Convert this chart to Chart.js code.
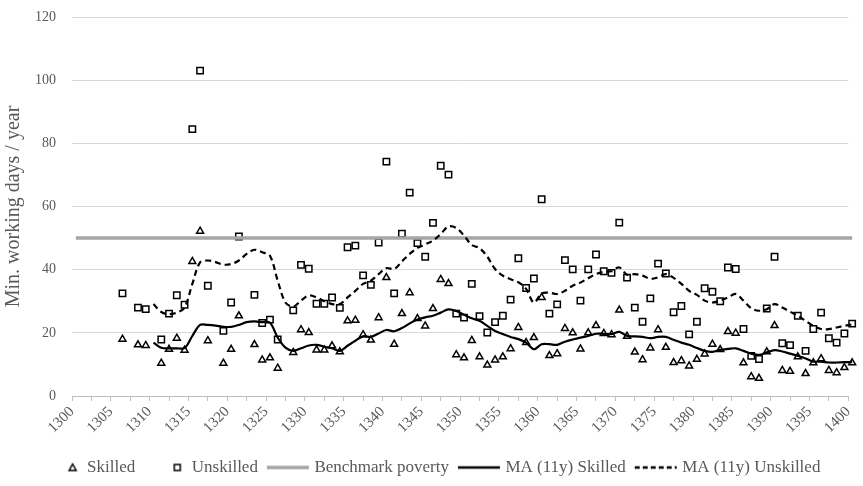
<!DOCTYPE html>
<html>
<head>
<meta charset="utf-8">
<script src="https://cdn.jsdelivr.net/npm/chart.js@4.4.0/dist/chart.umd.min.js"></script>
<style>
html,body{margin:0;padding:0;background:#fff;}
#wrap{width:863px;height:486px;}
</style>
</head>
<body>
<div id="wrap"><canvas id="grafico"></canvas></div>
<script>
// years with observations
var anni = [1306,1308,1309,1311,1312,1313,1314,1315,1316,1317,1319,1320,1321,1323,1324,1325,1326,
  1328,1329,1330,1331,1332,1333,1334,1335,1336,1337,1338,1339,1340,1341,1342,1343,1344,1345,1346,1347,1348,1349,
  1350,1351,1352,1353,1354,1355,1356,1357,1358,1359,1360,1361,1362,1363,1364,1365,1366,1367,1368,1369,
  1370,1371,1372,1373,1374,1375,1376,1377,1378,1379,1380,1381,1382,1383,1384,1385,1386,1387,1388,1389,
  1390,1391,1392,1393,1394,1395,1396,1397,1398,1399,1400];
var skilled = [18.0,16.2,16.0,10.4,14.8,18.3,14.5,42.6,52.2,17.5,10.4,14.8,25.4,16.3,11.4,12.1,8.8,
  13.8,21.0,20.1,14.6,14.6,15.9,14.0,23.8,24.0,19.4,17.7,24.8,37.5,16.4,26.1,32.7,24.5,22.2,27.7,36.9,35.6,13.1,
  12.1,17.6,12.4,9.8,11.4,12.4,15.0,21.7,16.9,18.5,31.2,12.8,13.4,21.4,20.0,14.9,20.0,22.3,19.8,19.4,
  27.2,18.9,13.9,11.5,15.2,21.0,15.4,10.6,11.2,9.5,11.6,13.3,16.4,14.7,20.4,19.9,10.5,6.1,5.6,14.0,
  22.3,8.1,7.8,12.4,7.1,10.5,11.8,8.1,7.4,9.0,10.5];
var unskilled = [32.5,28.0,27.5,17.9,26.1,31.9,28.9,84.5,103.0,34.9,20.6,29.6,50.5,32.0,23.1,24.2,17.9,
  27.1,41.5,40.3,29.2,29.2,31.2,27.9,47.1,47.6,38.2,35.2,48.6,74.2,32.5,51.4,64.4,48.4,44.1,54.8,72.9,70.1,26.1,
  24.8,35.5,25.3,20.1,23.4,25.4,30.5,43.6,34.2,37.2,62.3,26.1,29.0,43.0,40.1,30.2,40.1,44.8,39.5,39.0,
  54.9,37.5,28.0,23.5,30.9,41.9,38.8,26.5,28.5,19.5,23.5,34.1,33.0,30.0,40.7,40.2,21.2,12.7,11.7,27.7,
  44.1,16.7,16.1,25.4,14.3,21.2,26.4,18.3,16.9,19.8,22.9];

// moving averages, 1310-1400
var anniMA = Array.from({length: 91}, function(_, i){ return 1310 + i; });
var maSkilled = [16.9,15.3,15.1,15.1,15.2,19.0,22.5,22.5,22.3,21.9,21.9,22.5,23.4,23.6,23.4,23.2,18.5,15.3,14.3,15.1,
  16.0,16.2,15.6,15.1,14.3,15.9,17.5,18.9,18.7,19.8,20.9,20.5,21.5,23.0,24.2,24.9,25.4,26.4,27.4,26.9,
  25.7,24.6,23.8,22.2,20.6,19.6,18.7,18.0,16.9,14.8,16.4,16.4,16.2,17.2,17.9,18.5,19.0,19.7,19.7,19.6,
  20.3,19.0,18.9,18.7,18.3,18.7,18.7,17.8,16.9,16.2,15.2,14.3,14.0,14.6,14.9,15.1,14.3,13.4,13.0,13.8,
  14.5,14.1,13.4,12.7,11.9,10.9,10.9,10.6,10.6,10.7,10.7];
var maUnskilled = [29.1,26.6,25.9,26.4,28.0,35.5,42.3,42.9,42.4,41.6,41.8,42.9,45.0,46.3,45.5,44.4,36.5,29.6,28.3,30.2,
  31.8,31.2,30.0,29.1,29.1,31.2,33.3,35.5,36.5,38.6,40.5,40.2,42.6,45.0,46.9,48.0,49.2,51.3,53.7,53.2,
  50.8,47.8,46.8,44.1,40.2,38.1,37.0,36.0,33.9,29.6,32.5,32.7,32.3,33.3,34.9,35.9,37.3,38.6,39.3,39.5,
  40.7,38.4,38.6,38.1,37.1,37.6,38.6,37.4,35.5,33.3,32.0,30.2,29.6,30.2,31.2,32.3,30.2,27.8,27.0,27.5,
  29.1,28.0,26.7,25.4,23.8,22.2,21.2,21.2,21.7,22.2,22.7];

var anniSoglia = [1300, 1400];
var soglia = [50, 50];

function punti(xs, ys){
  return xs.map(function(x, i){ return {x: x, y: ys[i]}; });
}

// legend markers (canvas a bit wider than the legend box so lines reach the text)
function marcatore(tipo){
  var c = document.createElement('canvas');
  c.width = 48; c.height = 14;
  var g = c.getContext('2d');
  g.lineWidth = 1.5; g.strokeStyle = '#000'; g.fillStyle = '#fff';
  if (tipo === 'tri') {
    g.beginPath(); g.moveTo(38, 3.5); g.lineTo(41.5, 10); g.lineTo(34.5, 10); g.closePath();
    g.fill(); g.stroke();
  } else if (tipo === 'sq') {
    g.fillRect(35, 4, 6, 6); g.strokeRect(35, 4, 6, 6);
  } else {
    g.lineWidth = tipo === 'grigio' ? 3.5 : 2.5;
    g.strokeStyle = tipo === 'grigio' ? '#a6a6a6' : '#000';
    if (tipo === 'tratt') g.setLineDash([5, 3]);
    g.beginPath(); g.moveTo(5, 7); g.lineTo(47, 7); g.stroke();
  }
  return c;
}
var marcatori = [marcatore('tri'), marcatore('sq'), marcatore('grigio'), marcatore('nero'), marcatore('tratt')];

var tacche = [];
for (var t = 1299.5; t <= 1399.5; t += 2.5) tacche.push(t);

var serif = "'Liberation Serif', 'DejaVu Serif', serif";

var ctx = document.getElementById('grafico');
var grafico = new Chart(ctx, {
  type: 'scatter',
  data: {
    datasets: [
      {
        label: 'Skilled',
        data: punti(anni, skilled),
        pointStyle: 'triangle',
        pointRadius: 4,
        pointBorderWidth: 1.5,
        pointBackgroundColor: '#fff',
        pointBorderColor: '#000',
        clip: false,
        order: 5
      },
      {
        label: 'Unskilled',
        data: punti(anni, unskilled),
        pointStyle: 'rect',
        pointRadius: 4.5,
        pointBorderWidth: 1.5,
        pointBackgroundColor: '#fff',
        pointBorderColor: '#000',
        clip: false,
        order: 4
      },
      {
        label: 'Benchmark poverty',
        data: punti(anniSoglia, soglia),
        showLine: true,
        pointRadius: 0,
        borderColor: '#a6a6a6',
        borderWidth: 3.5,
        clip: false,
        order: 3
      },
      {
        label: 'MA (11y) Skilled',
        data: punti(anniMA, maSkilled),
        showLine: true,
        pointRadius: 0,
        borderColor: '#000',
        borderWidth: 2.2,
        tension: 0.35,
        clip: false,
        order: 2
      },
      {
        label: 'MA (11y) Unskilled',
        data: punti(anniMA, maUnskilled),
        showLine: true,
        pointRadius: 0,
        borderColor: '#000',
        borderWidth: 2.2,
        borderDash: [6, 4],
        tension: 0.35,
        clip: false,
        order: 1
      }
    ]
  },
  options: {
    responsive: true,
    maintainAspectRatio: false,
    animation: false,
    devicePixelRatio: 1,
    layout: { padding: { top: 17, right: 4, left: 0, bottom: 0 } },
    scales: {
      x: {
        type: 'linear',
        min: 1299.5,
        max: 1399.5,
        afterBuildTicks: function(asse){
          asse.ticks = tacche.map(function(v){ return {value: v}; });
        },
        afterFit: function(asse){ asse.height = 55; },
        ticks: {
          autoSkip: false,
          minRotation: 45,
          maxRotation: 45,
          padding: 2,
          color: '#595959',
          font: { family: serif, size: 15 },
          callback: function(v){
            var a = Math.round(v + 0.5);
            return a % 5 === 0 ? String(a) : '';
          }
        },
        grid: { drawOnChartArea: false, drawTicks: true, tickLength: 5, color: '#bfbfbf' },
        border: { color: '#bfbfbf', width: 1 }
      },
      y: {
        min: 0,
        max: 120,
        afterFit: function(asse){ asse.width = 72; },
        ticks: {
          stepSize: 20,
          padding: 3,
          color: '#595959',
          font: { family: serif, size: 14 }
        },
        grid: { color: '#d9d9d9', drawTicks: true, tickLength: 13, tickColor: 'rgba(0,0,0,0)' },
        border: { display: false },
        title: {
          display: true,
          text: 'Min. working days / year',
          color: '#595959',
          padding: { top: 2, bottom: 4 },
          font: { family: serif, size: 20 }
        }
      }
    },
    plugins: {
      tooltip: { enabled: false },
      legend: {
        position: 'bottom',
        labels: {
          usePointStyle: true,
          pointStyleWidth: 40,
          boxHeight: 14,
          padding: 8,
          color: '#595959',
          font: { family: serif, size: 17 },
          sort: function(a, b){ return a.datasetIndex - b.datasetIndex; },
          generateLabels: function(chart){
            var voci = Chart.defaults.plugins.legend.labels.generateLabels(chart);
            voci.forEach(function(v){ v.pointStyle = marcatori[v.datasetIndex]; v.lineWidth = 0; });
            return voci;
          }
        }
      }
    }
  }
});
</script>
</body>
</html>
